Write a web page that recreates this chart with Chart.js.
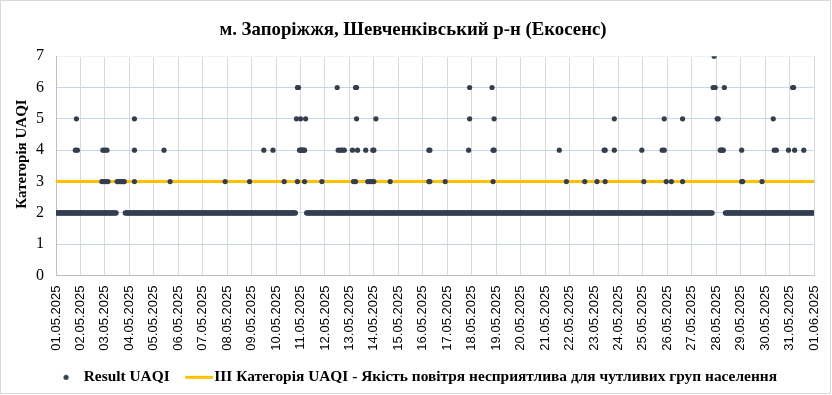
<!DOCTYPE html>
<html lang="uk">
<head>
<meta charset="utf-8">
<title>UAQI Запоріжжя</title>
<script src="https://cdn.jsdelivr.net/npm/chart.js@4.4.1/dist/chart.umd.min.js"></script>
<style>
  html, body { margin: 0; padding: 0; background: #fff; }
  #wrap { width: 832px; height: 395px; }
</style>
</head>
<body>
<div id="wrap"><canvas id="graficoUAQI" width="832" height="395"></canvas></div>
<script>
const dayLabels = [
  '01.05.2025', '02.05.2025', '03.05.2025', '04.05.2025', '05.05.2025', '06.05.2025',
  '07.05.2025', '08.05.2025', '09.05.2025', '10.05.2025', '11.05.2025', '12.05.2025',
  '13.05.2025', '14.05.2025', '15.05.2025', '16.05.2025', '17.05.2025', '18.05.2025',
  '19.05.2025', '20.05.2025', '21.05.2025', '22.05.2025', '23.05.2025', '24.05.2025',
  '25.05.2025', '26.05.2025', '27.05.2025', '28.05.2025', '29.05.2025', '30.05.2025',
  '31.05.2025', '01.06.2025'
];
const yTicks = [0, 1, 2, 3, 4, 5, 6, 7];

// години від 01.05 00:00, коли результат = 2 (інтервали [від, до])
const baseLevel = 2;
const baseRuns = [[0, 59], [68, 235], [246, 644], [657, 744]];

// підвищені результати: [година, категорія]
const highReadings = [
  [19, 4], [20, 5], [21, 4],
  [45, 3], [46, 4], [47, 3], [48, 4], [49, 3], [50, 4], [51, 3],
  [60, 3], [61, 3], [63, 3], [64, 3], [66, 3], [67, 3],
  [77, 5], [77, 4], [77, 3],
  [106, 4], [112, 3], [166, 3], [190, 3], [204, 4], [213, 4], [224, 3],
  [236, 5], [237, 6], [237, 3], [238, 6], [239, 4], [240, 5], [240, 4], [241, 4],
  [242, 4], [243, 4], [244, 4], [244, 3], [245, 5],
  [261, 3], [276, 6], [277, 4], [279, 4], [281, 4], [283, 4],
  [291, 4], [292, 3], [294, 6], [294, 3], [295, 6], [295, 5], [296, 4],
  [304, 4], [306, 3], [308, 3], [310, 3], [311, 4], [312, 4], [312, 3], [314, 5],
  [328, 3], [366, 4], [367, 4], [366, 3], [367, 3], [382, 3],
  [405, 4], [406, 6], [406, 5],
  [428, 6], [429, 4], [429, 3], [430, 4], [430, 5],
  [494, 4], [501, 3], [519, 3], [531, 3], [538, 4], [539, 4], [539, 3],
  [548, 5], [548, 4], [575, 4], [577, 3],
  [595, 4], [597, 4], [597, 5], [599, 3], [604, 3], [615, 5], [615, 3],
  [645, 6], [646, 7], [647, 6], [649, 5], [650, 5], [652, 4], [653, 4], [654, 4],
  [655, 4], [656, 6],
  [673, 4], [673, 3], [674, 3], [693, 3],
  [704, 5], [705, 4], [707, 4], [719, 4], [723, 6], [724, 6], [725, 4], [734, 4]
];

// III категорія UAQI
const thresholdLevel = 3;

const corPonto = '#333f50';
const corLimite = '#ffc000';

const pontosUAQI = [];
baseRuns.forEach(([from, to]) => {
  for (let h = from; h <= to; h++) pontosUAQI.push({ x: h, y: baseLevel });
});
highReadings.forEach(([h, v]) => pontosUAQI.push({ x: h, y: v }));

const lastHour = (dayLabels.length - 1) * 24;
const linhaLimite = [{ x: 0, y: thresholdLevel }, { x: lastHour, y: thresholdLevel }];

// маркери легенди
const legendDot = document.createElement('canvas');
legendDot.width = 27; legendDot.height = 15;
(function () {
  const c = legendDot.getContext('2d');
  c.fillStyle = corPonto;
  c.beginPath(); c.arc(17, 7.5, 2.6, 0, Math.PI * 2); c.fill();
})();
const legendLine = document.createElement('canvas');
legendLine.width = 40; legendLine.height = 15;
(function () {
  const c = legendLine.getContext('2d');
  c.strokeStyle = corLimite; c.lineWidth = 3;
  c.beginPath(); c.moveTo(12, 7.5); c.lineTo(40, 7.5); c.stroke();
})();

const molduraPlugin = {
  id: 'moldura',
  afterDraw(chart) {
    const c = chart.ctx;
    c.save();
    c.strokeStyle = '#d9d9d9';
    c.lineWidth = 1;
    c.strokeRect(0.5, 0.5, 830, 393);
    c.restore();
  }
};

const tituloYPlugin = {
  id: 'tituloY',
  afterDraw(chart) {
    const c = chart.ctx;
    c.save();
    c.translate(22.5, 154);
    c.rotate(-Math.PI / 2);
    c.font = 'bold 15px "Liberation Serif"';
    c.fillStyle = '#000';
    c.textAlign = 'center';
    c.textBaseline = 'middle';
    c.fillText('Категорія UAQI', 0, 0);
    c.restore();
  }
};

const ctxUAQI = document.getElementById('graficoUAQI');
new Chart(ctxUAQI, {
  type: 'scatter',
  data: {
    datasets: [{
      label: 'Result UAQI',
      data: pontosUAQI,
      backgroundColor: corPonto,
      borderWidth: 0,
      pointRadius: 2.6,
      pointStyle: 'circle'
    }, {
      label: 'III Категорія UAQI - Якість повітря несприятлива для чутливих груп населення',
      data: linhaLimite,
      showLine: true,
      borderColor: corLimite,
      backgroundColor: corLimite,
      borderWidth: 3,
      pointRadius: 0
    }]
  },
  options: {
    responsive: false,
    animation: false,
    events: [],
    layout: { padding: { left: 6, right: 12, top: 0, bottom: 0 } },
    plugins: {
      title: {
        display: true,
        text: 'м. Запоріжжя, Шевченківський р-н (Екосенс)',
        color: '#000',
        font: { family: '"Liberation Serif"', size: 18.8, weight: 'bold' },
        padding: { top: 19, bottom: 14.6 }
      },
      legend: {
        position: 'bottom',
        labels: {
          usePointStyle: true,
          pointStyleWidth: 27,
          padding: 10,
          color: '#000',
          font: { family: '"Liberation Serif"', size: 15.4, weight: 'bold' },
          generateLabels(chart) {
            const items = Chart.defaults.plugins.legend.labels.generateLabels(chart);
            items[0].pointStyle = legendDot;
            items[1].pointStyle = legendLine;
            return items;
          }
        }
      },
      tooltip: { enabled: false }
    },
    scales: {
      x: {
        type: 'linear',
        min: 0,
        max: lastHour,
        afterBuildTicks: (scale) => {
          scale.ticks = dayLabels.map((_, i) => ({ value: i * 24 }));
        },
        afterFit: (scale) => {
          scale.height = 84;
          scale.paddingLeft = 0;
          scale.paddingRight = 18;
        },
        ticks: {
          autoSkip: false,
          maxRotation: 90,
          minRotation: 90,
          padding: 10,
          color: '#000',
          font: { family: '"Liberation Sans"', size: 13 },
          callback: (value) => dayLabels[Math.round(value / 24)]
        },
        grid: { color: '#d9d9d9', drawTicks: false },
        border: { color: '#bfbfbf' }
      },
      y: {
        min: 0,
        max: 7,
        afterBuildTicks: (scale) => {
          scale.ticks = yTicks.map(v => ({ value: v }));
        },
        afterFit: (scale) => { scale.width = 50; },
        ticks: {
          padding: 12,
          color: '#000',
          font: { family: '"Liberation Serif"', size: 16 }
        },
        grid: {
          drawTicks: false,
          color: (ctx) => ctx.tick && ctx.tick.value === 7 ? '#eef1f7' : '#c9d5ea'
        },
        border: { color: '#bfbfbf' }
      }
    }
  },
  plugins: [molduraPlugin, tituloYPlugin]
});
</script>
</body>
</html>
